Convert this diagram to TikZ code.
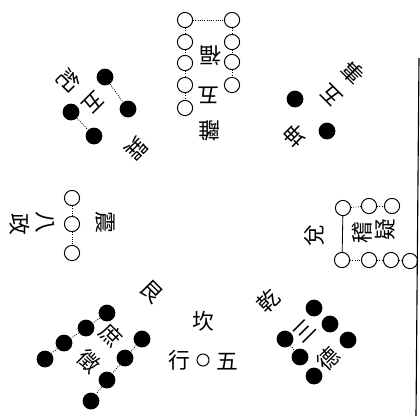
\documentclass[tikz,border=0pt]{standalone}
\usepackage{fontspec}
\newfontfamily\cjk{Noto Sans CJK TC}
\usetikzlibrary{positioning}
\begin{document}
\begin{tikzpicture}[x=0.025cm, y=-0.025cm,
    yang/.style={circle, draw, line width=0.7pt, fill=white, minimum size=0.38cm, inner sep=0pt},
    yin/.style={circle, fill=black, minimum size=0.42cm, inner sep=0pt},
    zi/.style={font=\cjk\fontsize{15.5}{15.5}\selectfont, inner sep=0pt},
    link/.style={densely dotted, line width=0.6pt}
]
    \useasboundingbox (0,0) rectangle (420,416);
    % li, top
    \node[yang] (li1) at (185,20) {};
    \node[yang] (li2) at (185,42) {};
    \node[yang] (li3) at (185,63) {};
    \node[yang] (li4) at (185,85) {};
    \node[yang] (li5) at (185,108) {};
    \node[yang] (li6) at (232,20) {};
    \node[yang] (li7) at (232,42) {};
    \node[yang] (li8) at (232,62) {};
    \node[yang] (li9) at (232,85) {};
    \draw[link] (li1) -- (li6);
    \draw[link] (li1) -- (li2);
    \draw[link] (li2) -- (li3);
    \draw[link] (li3) -- (li4);
    \draw[link] (li4) -- (li5);
    \draw[link] (li6) -- (li7);
    \draw[link] (li7) -- (li8);
    \draw[link] (li8) -- (li9);
    \node[zi, rotate=180] (fu) at (211,56) {福};
    \node[zi, rotate=180] (wufu) at (209,95) {五};
    \node[zi, rotate=180] (li) at (210,131) {離};
    % xun, top left
    \node[yin] (xun1) at (105,77) {};
    \node[yin] (xun2) at (128,109) {};
    \node[yin] (xun3) at (71,112) {};
    \node[yin] (xun4) at (94,136) {};
    \draw[link] (xun1) -- (xun2);
    \draw[link] (xun3) -- (xun4);
    \node[zi, rotate=-135] (ji) at (69,81) {紀};
    \node[zi, rotate=-135] (wuji) at (93,103) {五};
    \node[zi, rotate=-135] (xun) at (136,149) {巽};
    % kun, top right
    \node[yin] (kun1) at (295,99) {};
    \node[yin] (kun2) at (327,131) {};
    \node[zi, rotate=135] (wushi) at (331,95) {五};
    \node[zi, rotate=135] (shi) at (353,73) {事};
    \node[zi, rotate=135] (kun) at (295,136) {坤};
    % zhen, left
    \node[yang] (zhen1) at (72,198) {};
    \node[yang] (zhen2) at (72,224) {};
    \node[yang] (zhen3) at (72,253) {};
    \draw[link] (zhen1) -- (zhen2);
    \draw[link] (zhen2) -- (zhen3);
    \node[zi, rotate=-90] (zhen) at (105,222) {震};
    \node[zi, rotate=-90] (ba) at (45,222) {八};
    \node[zi, rotate=-90] (zheng) at (20,224) {政};
    % dui, right
    \node[yang] (dui1) at (343,208) {};
    \node[yang] (dui2) at (369,206) {};
    \node[yang] (dui3) at (392,206) {};
    \node[yang] (dui4) at (342,260) {};
    \node[yang] (dui5) at (369,260) {};
    \node[yang] (dui6) at (391,260) {};
    \node[yang] (dui7) at (410,261) {};
    \draw[line width=0.6pt] (dui1) -- (dui4);
    \draw[link] (dui1) -- (dui2);
    \draw[link] (dui2) -- (dui3);
    \draw[link] (dui4) -- (dui5);
    \draw[link] (dui5) -- (dui6);
    \draw[link] (dui6) -- (dui7);
    \node[zi, rotate=90] (dui) at (314,236) {兌};
    \node[zi, rotate=90] (jiyi1) at (362,233) {稽};
    \node[zi, rotate=90] (jiyi2) at (385,230) {疑};
    % gen, bottom left
    \node[yin] (gen1) at (107,313) {};
    \node[yin] (gen2) at (86,328) {};
    \node[yin] (gen3) at (64,343) {};
    \node[yin] (gen4) at (45,359) {};
    \node[yin] (gen5) at (142,339) {};
    \node[yin] (gen6) at (125,358) {};
    \node[yin] (gen7) at (107,380) {};
    \node[yin] (gen8) at (91,401) {};
    \draw[link] (gen1) -- (gen2);
    \draw[link] (gen2) -- (gen3);
    \draw[link] (gen3) -- (gen4);
    \draw[link] (gen5) -- (gen6);
    \draw[link] (gen6) -- (gen7);
    \draw[link] (gen7) -- (gen8);
    \node[zi, rotate=-45] (gen) at (152,292) {艮};
    \node[zi, rotate=-45] (shu) at (111,335) {庶};
    \node[zi, rotate=-45] (zhengy) at (89,361) {徵};
    % kan, bottom
    \node[zi] (kan) at (203,321) {坎};
    \node[zi] (xing) at (179,360) {行};
    \node[yang, minimum size=0.3cm] (kan1) at (203,360) {};
    \node[zi] (wuxing) at (227,362) {五};
    % qian, bottom right
    \node[yin] (qian1) at (314,308) {};
    \node[yin] (qian2) at (330,324) {};
    \node[yin] (qian3) at (348,340) {};
    \node[yin] (qian4) at (285,339) {};
    \node[yin] (qian5) at (300,357) {};
    \node[yin] (qian6) at (314,376) {};
    \draw[link] (qian4) -- (qian5);
    \node[zi, rotate=45] (qian) at (268,301) {乾};
    \node[zi, rotate=45] (san) at (305,331) {三};
    \node[zi, rotate=45] (de) at (328,359) {德};
    % page edge
    \coordinate (edge1) at (419,58);
    \coordinate (edge2) at (416,416);
    \draw[line width=0.8pt] (edge1) -- (edge2);
\end{tikzpicture}
\end{document}
